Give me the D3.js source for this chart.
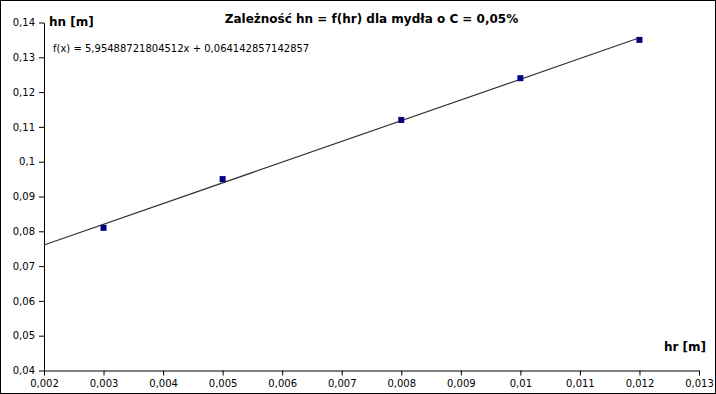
<!DOCTYPE html>
<html>
<head>
<meta charset="utf-8">
<script src="https://cdn.jsdelivr.net/npm/d3@7"></script>
<style>
  body { margin: 0; background: #fff; }
  svg { display: block; font-family: "DejaVu Sans", sans-serif; }
</style>
</head>
<body>
<div id="chart"></div>
<script>
var svgWidth = 716;
var svgHeight = 394;

// data
var hr = [0.003, 0.005, 0.008, 0.010, 0.012];
var hn = [0.081, 0.095, 0.112, 0.124, 0.135];
var xTicks = [0.002, 0.003, 0.004, 0.005, 0.006, 0.007, 0.008, 0.009, 0.010, 0.011, 0.012, 0.013];
var yTicks = [0.04, 0.05, 0.06, 0.07, 0.08, 0.09, 0.10, 0.11, 0.12, 0.13, 0.14];
var trendSlope = 5.95488721804512;
var trendIntercept = 0.064142857142857;
var trendRange = [0.002, 0.012];

var margin = { top: 22.5, right: 17, bottom: 23.5, left: 44 };
var chartWidth = svgWidth - margin.left - margin.right;
var chartHeight = svgHeight - margin.top - margin.bottom;

var svg = d3.select("#chart")
  .append("svg")
  .attr("width", svgWidth)
  .attr("height", svgHeight);

// outer frame
svg.append("rect")
  .attr("x", 0.5).attr("y", 0.5)
  .attr("width", svgWidth - 1).attr("height", svgHeight - 1)
  .attr("fill", "#fff").attr("stroke", "#000");

var chartGroup = svg.append("g")
  .attr("transform", `translate(${margin.left}, ${margin.top})`);

var x = d3.scaleLinear().domain([0.002, 0.013]).range([0, chartWidth]);
var y = d3.scaleLinear().domain([0.04, 0.14]).range([chartHeight, 0]);

var fmt = d => d3.format("~g")(+d.toFixed(4)).replace(".", ",");

var xAxis = d3.axisBottom(x).tickValues(xTicks).tickFormat(fmt).tickSize(5).tickSizeOuter(0);
var yAxis = d3.axisLeft(y).tickValues(yTicks).tickFormat(fmt).tickSize(5).tickSizeOuter(0);

var gx = chartGroup.append("g")
  .attr("transform", `translate(0, ${chartHeight})`)
  .call(xAxis);
var gy = chartGroup.append("g").call(yAxis);

[gx, gy].forEach(g => {
  g.selectAll("text").attr("font-family", "DejaVu Sans").attr("font-size", 10).attr("fill", "#000");
  g.selectAll("line, path").attr("stroke", "#000");
});
gx.selectAll("text").attr("dy", "0.9em").attr("y", 7);
gy.selectAll("text").attr("x", -9);

// trend line
var line = d3.line().x(d => x(d)).y(d => y(trendSlope * d + trendIntercept));
chartGroup.append("path")
  .datum(trendRange)
  .attr("d", line)
  .attr("fill", "none")
  .attr("stroke", "#333")
  .attr("stroke-width", 1.2);

// points
chartGroup.selectAll(".pt")
  .data(hr)
  .enter()
  .append("rect")
  .attr("class", "pt")
  .attr("x", (d, i) => x(d) - 3)
  .attr("y", (d, i) => y(hn[i]) - 3)
  .attr("width", 6)
  .attr("height", 6)
  .attr("fill", "#000080");

// texts
svg.append("text")
  .attr("x", margin.left + chartWidth / 2)
  .attr("y", 23)
  .attr("text-anchor", "middle")
  .attr("font-size", 12)
  .attr("font-weight", "bold")
  .text("Zależność hn = f(hr) dla mydła o C = 0,05%");

svg.append("text")
  .attr("x", 49).attr("y", 26)
  .attr("font-size", 12).attr("font-weight", "bold")
  .text("hn [m]");

svg.append("text")
  .attr("x", 706).attr("y", 351)
  .attr("text-anchor", "end")
  .attr("font-size", 12).attr("font-weight", "bold")
  .text("hr [m]");

svg.append("text")
  .attr("x", 53).attr("y", 52)
  .attr("font-size", 10)
  .text("f(x) = 5,95488721804512x + 0,064142857142857");
</script>
</body>
</html>
